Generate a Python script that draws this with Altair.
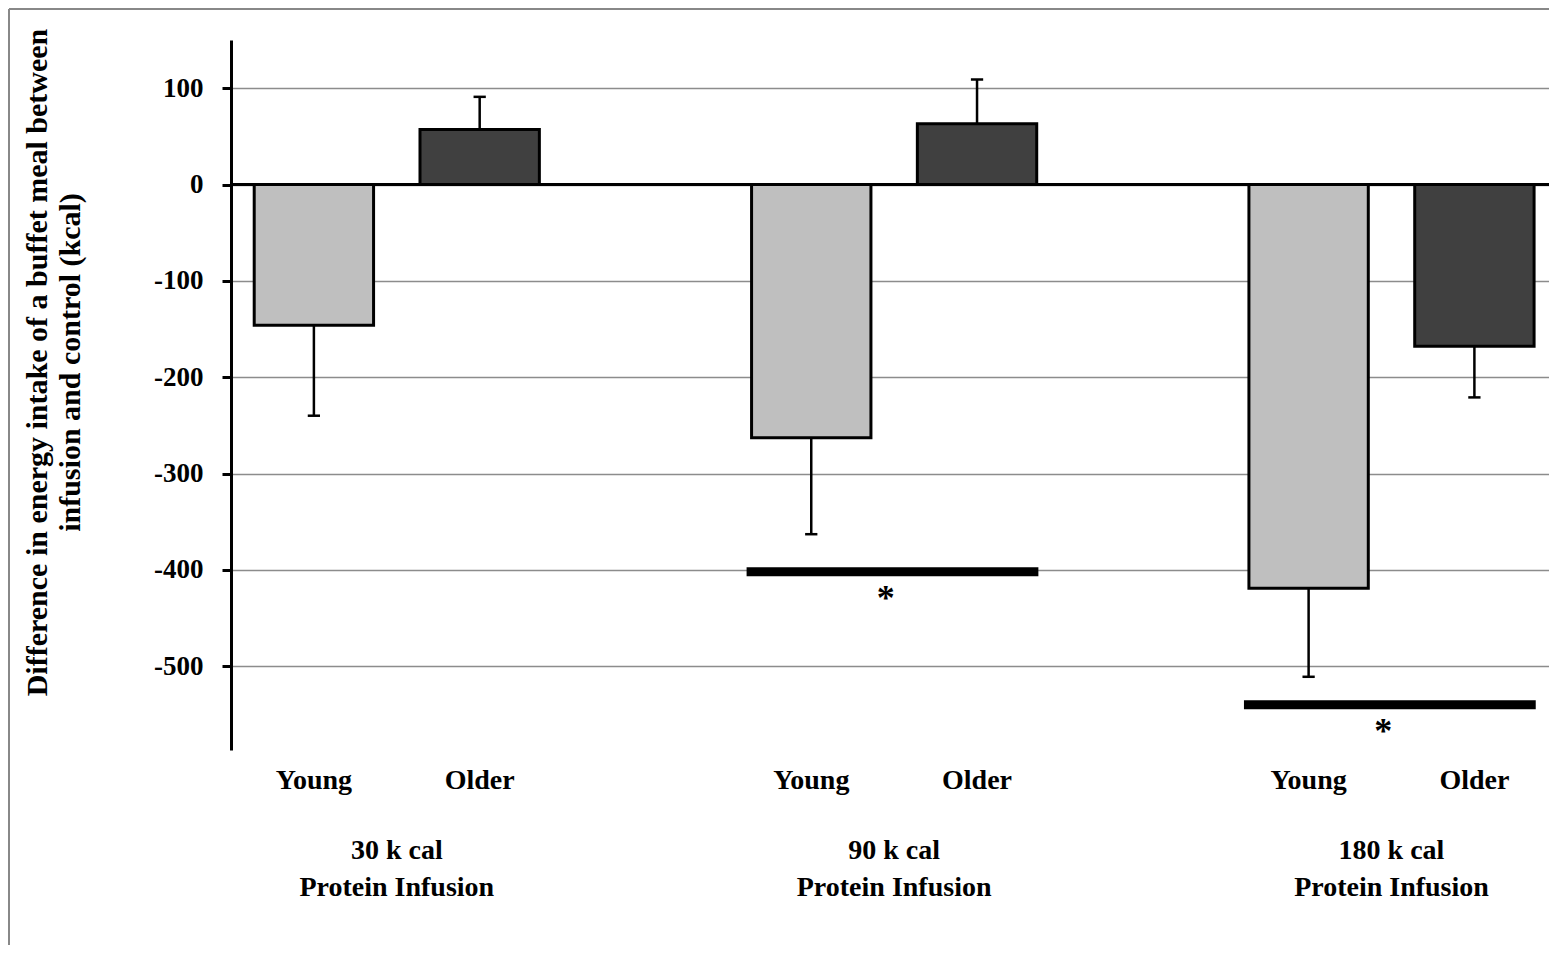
import altair as alt
import pandas as pd

# ---- data ----
groups = ["30 k cal", "90 k cal", "180 k cal"]
group_line2 = "Protein Infusion"
ages = ["Young", "Older"]
young_means = [-146, -263, -419]
young_sem = [94, 100, 92]
older_means = [57, 63, -168]
older_sem = [34, 46, 53]
sig_groups = ["90 k cal", "180 k cal"]
sig_levels = [-402, -540]
y_ticks = [100, 0, -100, -200, -300, -400, -500]

FONT = "Liberation Serif"

rows = []
for gi, g in enumerate(groups):
    for ai, (a, means, sems) in enumerate(
        [("Young", young_means, young_sem), ("Older", older_means, older_sem)]
    ):
        m = means[gi]
        s = sems[gi]
        sign = 1 if m >= 0 else -1
        rows.append(dict(group=g, age=a, mean=m, sem=s, pos=3 * gi + ai,
                         end=m + sign * s))
df = pd.DataFrame(rows)

grp_df = pd.DataFrame({
    "group": groups,
    "label": [f"{g}\n{group_line2}" for g in groups],
    "pos": [3 * i + 0.5 for i in range(len(groups))],
})

sig_df = pd.DataFrame({
    "group": sig_groups,
    "level": sig_levels,
    "pos": [3 * groups.index(g) for g in sig_groups],
})

xs = alt.Scale(domain=[-0.5, 7.45], nice=False, zero=False)
ys = alt.Scale(domain=[-587, 150], nice=False, zero=False)

y_axis = alt.Axis(
    values=y_ticks, grid=True, gridColor="#8c8c8c", gridWidth=1.5,
    domainColor="black", domainWidth=3, tickColor="black",
    tickWidth=3, tickSize=9, labelPadding=19,
    labelExpr="toString(datum.value)",
    labelFont=FONT, labelFontSize=27, labelFontWeight="bold",
    labelColor="black",
    title=["Difference in energy intake of a buffet meal between",
           "infusion and control  (kcal)"],
    titleFont=FONT, titleFontSize=30, titleFontWeight="bold",
    titleColor="black", titleAngle=-90, titleAlign="center",
    titleBaseline="alphabetic", titleLineHeight=33,
    titleX=-185, titleY=322,
)


def X(field):
    return alt.X(field, type="quantitative", scale=xs, axis=None)


def Y(field):
    return alt.Y(field, type="quantitative", scale=ys, axis=y_axis)


base = alt.Chart(df)

bars = base.transform_calculate(
    x1="datum.pos - 0.36", x2="datum.pos + 0.36", zero="0"
).mark_rect(stroke="black", strokeWidth=3).encode(
    x=X("x1"),
    x2="x2:Q",
    y=Y("mean"),
    y2="zero:Q",
    color=alt.Color("age:N", scale=alt.Scale(domain=ages, range=["#BFBFBF", "#404040"]),
                    legend=None),
)

err_line = base.mark_rule(color="black", strokeWidth=2.5).encode(
    x=X("pos"),
    y=Y("mean"),
    y2="end:Q",
)

err_cap = base.transform_calculate(
    c1="datum.pos - 0.037", c2="datum.pos + 0.037"
).mark_rule(color="black", strokeWidth=2.5).encode(
    x=X("c1"),
    x2="c2:Q",
    y=Y("end"),
)

zero_df = pd.DataFrame({"y": [0], "x1": [-0.5], "x2": [7.45]})
zero_line = alt.Chart(zero_df).mark_rule(color="black", strokeWidth=3).encode(
    x=X("x1"), x2="x2:Q", y=Y("y")
)

age_labels = base.mark_text(
    font=FONT, fontSize=28, fontWeight="bold", color="black",
    baseline="alphabetic", align="center"
).encode(
    x=X("pos"),
    y=alt.value(749),
    text="age:N",
)

grp_labels = alt.Chart(grp_df).mark_text(
    font=FONT, fontSize=28, fontWeight="bold", color="black",
    baseline="alphabetic", align="center", lineBreak="\n", lineHeight=37
).encode(
    x=X("pos"),
    y=alt.value(819),
    text="label:N",
)

sig_bar = alt.Chart(sig_df).transform_calculate(
    s1="datum.pos - 0.39", s2="datum.pos + 1.37"
).mark_rule(color="black", strokeWidth=9).encode(
    x=X("s1"), x2="s2:Q", y=Y("level")
)

sig_star = alt.Chart(sig_df).transform_calculate(
    c="datum.pos + 0.45", t="'*'"
).mark_text(
    font=FONT, fontSize=36, fontWeight="bold", color="black",
    baseline="alphabetic", align="center", dy=38
).encode(
    x=X("c"), y=Y("level"), text="t:N"
)

frame_top = alt.Chart(zero_df).mark_rule(color="#888888", strokeWidth=2).encode(
    x=alt.value(-222), x2=alt.value(1400), y=alt.value(-31)
)
frame_left = alt.Chart(zero_df).mark_rule(color="#888888", strokeWidth=2).encode(
    x=alt.value(-222), y=alt.value(-31), y2=alt.value(1000)
)

chart = alt.layer(
    frame_top, frame_left, zero_line, bars, err_line, err_cap,
    sig_bar, sig_star, age_labels, grp_labels
).properties(
    width=1318, height=710,
    autosize=alt.AutoSizeParams(type="none"),
    padding={"left": 223, "top": 32, "right": 0, "bottom": 195},
    background="white",
).configure_view(stroke=None)

chart.save("out.html", embed_options={"renderer": "svg", "actions": False})
